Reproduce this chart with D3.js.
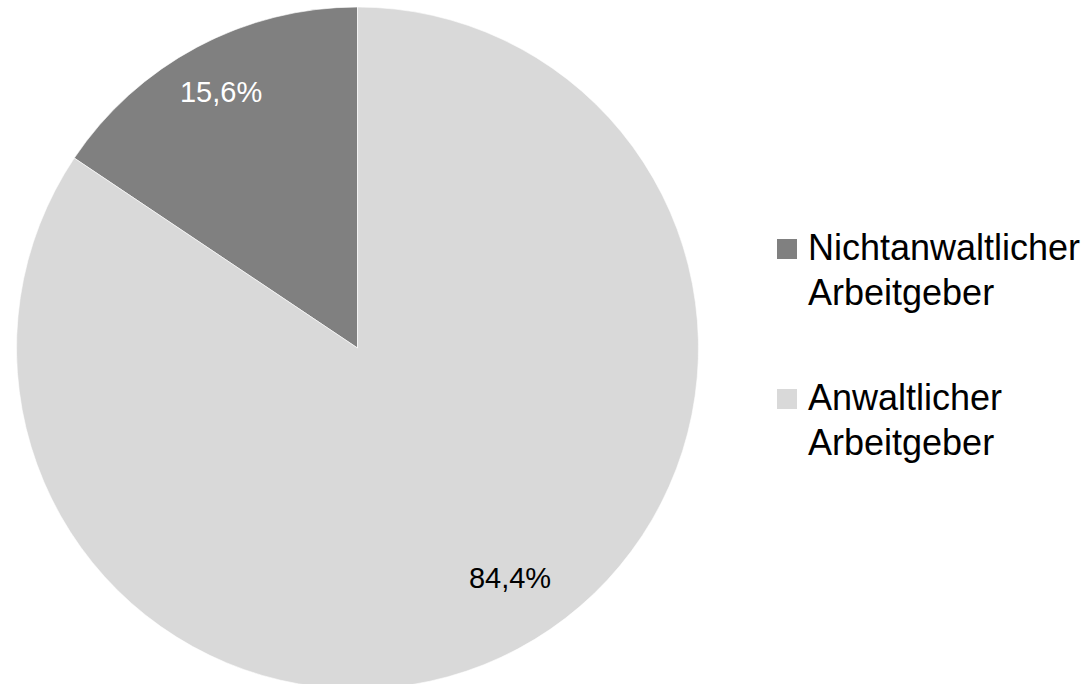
<!DOCTYPE html>
<html><head><meta charset="utf-8">
<script src="https://cdn.jsdelivr.net/npm/d3@7"></script>
<style>body{margin:0;background:#fff;} svg{display:block;}</style>
</head><body>
<svg id="c" width="1091" height="684"></svg>
<script>
const categories = ["Nichtanwaltlicher Arbeitgeber", "Anwaltlicher Arbeitgeber"];
const legendLines = [["Nichtanwaltlicher", "Arbeitgeber"], ["Anwaltlicher", "Arbeitgeber"]];
const values = [15.6, 84.4];
const labels = ["15,6%", "84,4%"];
const colors = ["#808080", "#d9d9d9"];
const labelColors = ["#ffffff", "#000000"];

const svg = d3.select("#c");
const cx = 357.5, cy = 348, r = 341;
const g = svg.append("g").attr("transform", `translate(${cx},${cy})`);

const pie = d3.pie().sort(null).startAngle(-2 * Math.PI * values[0] / 100).endAngle(2 * Math.PI - 2 * Math.PI * values[0] / 100);
const arcs = pie(values);
const arc = d3.arc().innerRadius(0).outerRadius(r);

g.selectAll("path").data(arcs).join("path")
  .attr("d", arc)
  .attr("fill", (d, i) => colors[i])
  .attr("stroke", "#fff").attr("stroke-width", 0.6);

const labelRadius = [0.85, 0.81];
const labelAngleShift = [0, -0.095];
g.selectAll("text.lbl").data(arcs).join("text")
  .attr("class", "lbl")
  .attr("x", (d, i) => { const a = (d.startAngle + d.endAngle) / 2 + labelAngleShift[i]; return Math.sin(a) * r * labelRadius[i]; })
  .attr("y", (d, i) => { const a = (d.startAngle + d.endAngle) / 2 + labelAngleShift[i]; return -Math.cos(a) * r * labelRadius[i]; })
  .attr("dy", "0.35em")
  .attr("text-anchor", "middle")
  .attr("font-family", "Liberation Sans, Arial, sans-serif")
  .attr("font-size", 29)
  .attr("fill", (d, i) => labelColors[i])
  .text((d, i) => labels[i]);

const leg = svg.append("g").attr("transform", "translate(777,239)");
const item = leg.selectAll("g").data(categories).join("g")
  .attr("transform", (d, i) => `translate(0,${i * 150})`);
item.append("rect").attr("width", 20).attr("height", 20).attr("fill", (d, i) => colors[i]);
item.each(function(d, i) {
  const t = d3.select(this).append("text")
    .attr("font-family", "Liberation Sans, Arial, sans-serif")
    .attr("font-size", 36)
    .attr("fill", "#000");
  legendLines[i].forEach((ln, j) => {
    t.append("tspan").attr("x", 31).attr("y", 21 + j * 45).text(ln);
  });
});
</script>
</body></html>
